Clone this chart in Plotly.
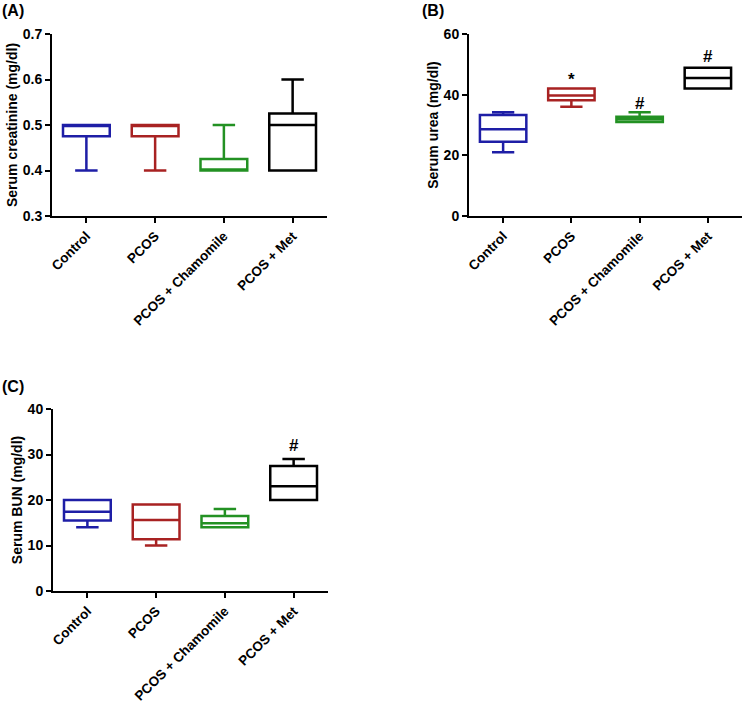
import plotly.graph_objects as go

groups = ["Control", "PCOS", "PCOS + Chamomile", "PCOS + Met"]
colors = ["#1e1ea6", "#a82222", "#239123", "#000000"]

# Panel A: Serum creatinine (mg/dl)
crea_min = [0.40, 0.40, 0.40, 0.40]
crea_q1 = [0.475, 0.475, 0.40, 0.40]
crea_med = [0.50, 0.50, 0.40, 0.50]
crea_q3 = [0.50, 0.50, 0.425, 0.525]
crea_max = [0.50, 0.50, 0.50, 0.60]

# Panel B: Serum urea (mg/dl)
urea_min = [21.0, 36.0, 31.0, 42.0]
urea_q1 = [24.5, 38.2, 31.0, 42.0]
urea_med = [28.6, 39.7, 31.9, 45.5]
urea_q3 = [33.3, 42.0, 32.7, 48.9]
urea_max = [34.2, 42.0, 34.2, 48.9]
urea_marks = ["", "*", "#", "#"]
urea_mark_y = [None, 45.0, 37.0, 52.5]

# Panel C: Serum BUN (mg/dl)
bun_min = [14.0, 10.0, 14.0, 20.0]
bun_q1 = [15.5, 11.4, 14.0, 20.0]
bun_med = [17.4, 15.6, 14.9, 23.0]
bun_q3 = [20.0, 19.0, 16.5, 27.5]
bun_max = [20.0, 19.0, 18.0, 29.0]
bun_marks = ["", "", "", "#"]
bun_mark_y = [None, None, None, 32.0]

W, H = 743, 703
FONT = "Arial, Liberation Sans, sans-serif"

fig = go.Figure()

def add_boxes(xa, ya, mins, q1s, meds, q3s, maxs):
    for i, g in enumerate(groups):
        fig.add_trace(go.Box(
            x=[g], q1=[q1s[i]], median=[meds[i]], q3=[q3s[i]],
            lowerfence=[mins[i]], upperfence=[maxs[i]],
            fillcolor="white", line=dict(color=colors[i], width=2.5),
            width=0.68, whiskerwidth=0.48, boxpoints=False,
            xaxis=xa, yaxis=ya, showlegend=False, hoverinfo="skip"))

add_boxes("x", "y", crea_min, crea_q1, crea_med, crea_q3, crea_max)
add_boxes("x2", "y2", urea_min, urea_q1, urea_med, urea_q3, urea_max)
add_boxes("x3", "y3", bun_min, bun_q1, bun_med, bun_q3, bun_max)

def px_x(a, b):
    return [a / W, b / W]

def px_y(top, bottom):
    return [(H - bottom) / H, (H - top) / H]

xcommon = dict(type="category", categoryorder="array", categoryarray=groups,
               range=[-0.5, 3.5], showline=True, linecolor="black", linewidth=2,
               ticks="outside", ticklen=5, tickwidth=2, tickcolor="black",
               tickangle=-45, showgrid=False, zeroline=False, automargin=False,
               tickfont=dict(family=FONT, size=13.5, color="black", weight="bold"))
ycommon = dict(showline=True, linecolor="black", linewidth=2,
               ticks="outside", ticklen=5, tickwidth=2, tickcolor="black",
               showgrid=False, zeroline=False, automargin=False,
               tickfont=dict(family=FONT, size=14, color="black", weight="bold"))

def ytitle(t, so):
    return dict(text=t, font=dict(family=FONT, size=14, color="black", weight="bold"), standoff=so)

fig.update_layout(
    width=W, height=H, margin=dict(l=0, r=0, t=0, b=0),
    paper_bgcolor="white", plot_bgcolor="white",
    xaxis=dict(xcommon, domain=px_x(52, 327), anchor="y"),
    yaxis=dict(ycommon, domain=px_y(34, 216), anchor="x", range=[0.3, 0.7],
               tickvals=[0.3, 0.4, 0.5, 0.6, 0.7], ticktext=["0.3", "0.4", "0.5", "0.6", "0.7"],
               title=ytitle("Serum creatinine (mg/dl)", 2)),
    xaxis2=dict(xcommon, domain=px_x(469, 742), anchor="y2"),
    yaxis2=dict(ycommon, domain=px_y(34, 216), anchor="x2", range=[0, 60],
                tickvals=[0, 20, 40, 60], title=ytitle("Serum urea (mg/dl)", 2)),
    xaxis3=dict(xcommon, domain=px_x(53, 328), anchor="y3"),
    yaxis3=dict(ycommon, domain=px_y(409, 591), anchor="x3", range=[0, 40],
                tickvals=[0, 10, 20, 30, 40], title=ytitle("Serum BUN (mg/dl)", 2)),
)

ann = []
for i, g in enumerate(groups):
    if urea_marks[i]:
        ann.append(dict(x=g, y=urea_mark_y[i], xref="x2", yref="y2", text=urea_marks[i],
                        showarrow=False, font=dict(family=FONT, size=17, color="black", weight="bold")))
    if bun_marks[i]:
        ann.append(dict(x=g, y=bun_mark_y[i], xref="x3", yref="y3", text=bun_marks[i],
                        showarrow=False, font=dict(family=FONT, size=17, color="black", weight="bold")))

for lab, xp, yp in [("(A)", 0, 0), ("(B)", 420, 0), ("(C)", 0, 376)]:
    ann.append(dict(x=xp / W, y=1 - yp / H, xref="paper", yref="paper", xanchor="left", yanchor="top",
                    text=lab, showarrow=False,
                    font=dict(family=FONT, size=16, color="black", weight="bold")))
fig.update_layout(annotations=ann)

fig.write_html("out.html", config={"displayModeBar": False},
               post_script="document.body.style.margin='0';document.body.style.overflow='hidden';")
